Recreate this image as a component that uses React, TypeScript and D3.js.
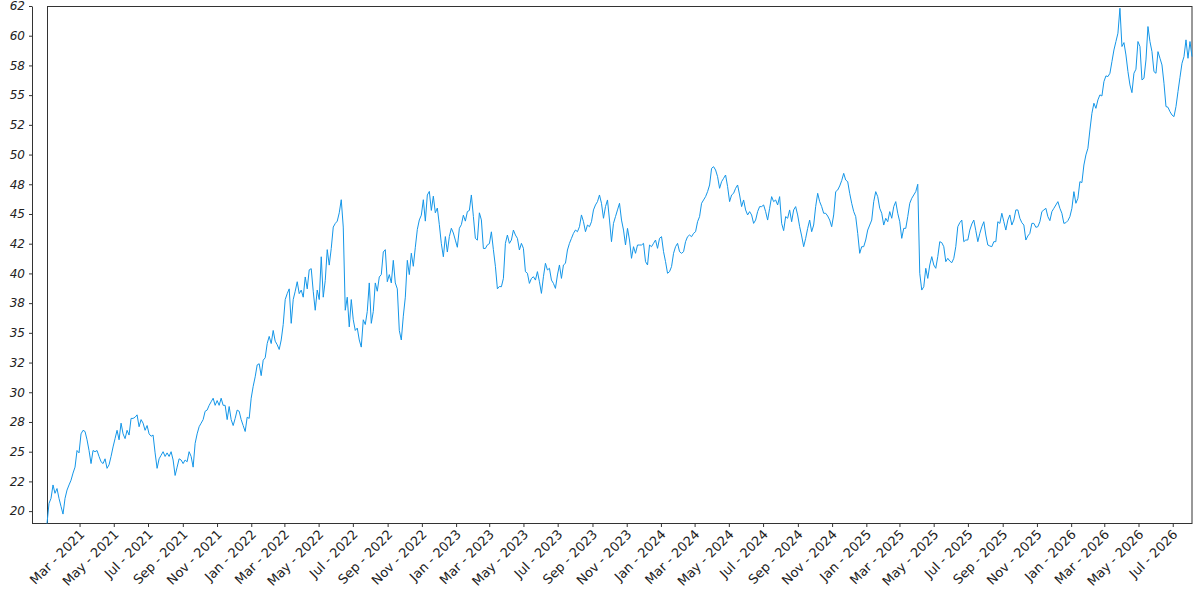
import { useEffect, useRef } from 'react';
import * as d3 from 'd3';

// sampling of the close series: one value every ~3.57 days from 2 Jan 2021
const startDate = new Date(2021, 0, 2);
const stepDays = 3.567;

const closeJan21Sep21 = [
  18.96, 20.65, 21.07, 22.2, 21.5, 21.9, 21.07, 20.4, 19.75, 21.07,
  21.77, 22.2, 22.6, 23.2, 23.7, 25.1, 24.9, 26.5, 26.8, 26.7,
  26.0, 25.1, 24.0, 25.1, 25.0, 25.1, 24.6, 24.15, 24.0, 24.4,
  23.6, 23.9, 24.6, 25.4, 26.1, 26.8, 26.0, 27.4, 26.5, 26.1,
  26.8, 26.4, 27.8, 27.8, 27.9, 28.1, 27.1, 27.7, 27.4, 26.8,
  27.2, 26.5, 26.3, 26.4, 24.9, 23.6, 24.4, 24.7, 25.0, 24.6,
  24.9, 24.6, 25.0, 24.3, 23.0, 23.7, 24.4, 24.3, 24.0, 24.3,
  24.15, 25.0, 24.6, 23.7, 25.7, 26.5, 27.1,
];

const closeOct21Jul22 = [
  27.4, 27.7, 28.4, 28.5, 28.9, 29.2, 29.5, 28.9, 29.3, 28.9,
  29.5, 28.9, 28.9, 27.7, 28.8, 27.7, 27.2, 27.8, 28.5, 28.4,
  27.7, 27.2, 26.7, 27.9, 27.8, 29.5, 30.5, 31.3, 32.3, 32.4,
  31.4, 32.7, 32.9, 34.1, 34.7, 34.1, 35.2, 34.3, 34.0, 33.6,
  34.4, 35.7, 37.8, 38.3, 38.7, 35.8, 37.8, 38.5, 39.3, 38.3,
  38.6, 38.0, 39.7, 38.7, 40.3, 40.4, 38.5, 36.9, 38.6, 37.8,
  41.4, 38.0, 39.4, 42.0, 40.7, 42.1, 43.9, 44.2, 44.4, 45.1,
  46.2, 43.9, 36.9, 38.0, 35.5, 37.8, 36.1, 35.2, 35.4, 34.4,
];

const closeJul22Mar23 = [
  33.8, 36.1, 35.7, 36.8, 39.2, 35.8, 36.8, 39.2, 38.5, 39.7,
  39.9, 41.8, 42.0, 39.3, 39.9, 39.2, 41.1, 39.2, 38.7, 35.2,
  34.4, 36.4, 38.0, 41.1, 39.9, 41.7, 40.6, 42.2, 43.7, 44.5,
  44.9, 46.2, 44.4, 46.6, 46.9, 45.3, 46.5, 45.1, 45.5, 44.1,
  42.5, 41.4, 43.1, 41.8, 43.1, 43.8, 43.4, 42.8, 42.2, 43.8,
  44.1, 44.9, 44.4, 45.2, 45.3, 46.6, 44.8, 42.95, 42.8, 45.1,
  44.5, 42.1, 42.1, 42.4, 42.5, 43.5, 42.0, 40.6, 38.7, 38.9,
];

const closeMar23Nov23 = [
  38.88, 39.58, 42.53, 43.23, 42.53, 42.81, 43.65, 43.23, 42.95, 41.97,
  42.53, 42.11, 40.15, 40.01, 39.16, 39.58, 39.72, 39.44, 40.15, 39.3,
  38.32, 39.72, 40.85, 40.29, 40.43, 39.44, 39.16, 38.74, 39.87, 40.71,
  39.58, 40.71, 40.85, 41.97, 42.53, 42.95, 43.37, 43.65, 43.51, 43.93,
  44.92, 44.35, 43.51, 44.07, 43.93, 44.35, 45.34, 45.76, 46.04, 46.6,
  45.9, 44.64, 45.62, 46.18, 44.49, 42.67, 44.21, 44.78, 45.34, 45.9,
  44.49, 43.65, 42.39, 43.79, 42.81, 41.27, 42.25, 41.69, 42.39, 42.39,
];

const closeDec23Jul24 = [
  42.39, 42.53, 40.99, 40.71, 42.39, 42.25, 42.53, 42.81, 42.11, 42.95,
  43.09, 41.83, 40.99, 40.01, 40.15, 40.57, 41.69, 42.25, 42.53, 41.83,
  41.69, 41.83, 42.67, 43.09, 43.23, 43.09, 43.37, 43.51, 44.35, 44.78,
  45.9, 46.18, 46.46, 46.88, 47.44, 48.84, 48.98, 48.7, 48.14, 47.16,
  47.72, 48.0, 48.28, 47.3, 46.04, 46.6, 46.74, 47.16, 47.44, 46.6,
  45.62, 46.18, 45.34, 44.92, 45.2, 44.92, 44.21, 44.49, 45.2, 45.62,
  45.62, 45.76, 45.2, 44.49, 45.48, 46.46, 46.04, 46.18, 45.76, 46.46,
];

const closeAug24Mar25 = [
  44.21, 43.6, 44.78, 44.64, 45.34, 44.35, 45.34, 45.62, 44.92, 43.93,
  43.15, 42.25, 42.95, 43.79, 44.49, 43.51, 44.07, 45.62, 46.74, 46.04,
  45.62, 45.06, 45.06, 44.83, 44.49, 43.93, 44.92, 46.88, 47.02, 47.36,
  47.81, 48.42, 47.86, 47.72, 46.74, 45.9, 45.2, 44.78, 43.37, 41.69,
  42.25, 42.25, 42.81, 43.65, 44.07, 44.49, 46.04, 46.88, 46.46, 45.48,
  45.06, 44.07, 44.64, 44.35, 45.2, 44.64, 45.62, 46.04, 45.06, 44.35,
  42.95, 43.79, 43.79, 44.78, 45.9, 46.32, 46.6, 46.88, 47.5,
];

const closeApr25Dec25 = [
  40.01, 38.6, 38.88, 40.43, 39.58, 40.71, 41.41, 40.71, 40.43, 41.41,
  42.67, 42.59, 42.25, 40.99, 41.27, 41.04, 40.9, 41.27, 42.25, 43.93,
  44.27, 44.49, 42.67, 42.81, 42.81, 43.65, 44.16, 44.49, 43.6, 42.67,
  43.37, 43.93, 44.35, 43.23, 42.39, 42.31, 42.25, 42.67, 42.67, 44.35,
  44.21, 45.06, 44.35, 43.65, 44.49, 44.92, 44.07, 44.49, 45.34, 45.34,
  44.64, 44.27, 44.07, 42.81, 43.15, 43.37, 44.21, 44.21, 43.88, 43.93,
  44.35, 45.2, 45.34, 45.48, 44.78, 44.44, 45.2, 45.48, 45.76, 46.04,
  45.48,
];

const closeJan26Aug26 = [
  45.06, 44.21, 44.27, 44.44, 44.78, 45.48, 46.88, 45.9, 46.32, 47.72,
  47.64, 49.12, 49.97, 50.53, 52.07, 53.47, 54.32, 53.89, 54.6, 55.02,
  54.93, 56.14, 56.62, 56.56, 56.84, 57.82, 58.8, 59.51, 60.21, 62.31,
  59.09, 59.42, 58.38, 56.98, 55.86, 55.21, 56.84, 57.18, 59.51, 59.09,
  56.28, 56.42, 57.96, 60.77, 59.51, 58.66, 56.98, 56.84, 58.66, 58.1,
  57.54, 56.0, 54.04, 53.98, 53.61, 53.33, 53.19, 54.04, 55.3, 56.5,
  57.68, 58.24, 59.65, 58.1, 59.51, 58.24,
];

const closeValues = [
  ...closeJan21Sep21,
  ...closeOct21Jul22,
  ...closeJul22Mar23,
  ...closeMar23Nov23,
  ...closeDec23Jul24,
  ...closeAug24Mar25,
  ...closeApr25Dec25,
  ...closeJan26Aug26,
];

const yDomain = [19, 62.5];
const yTicks = [20, 22.5, 25, 27.5, 30, 32.5, 35, 37.5, 40, 42.5, 45, 47.5, 50, 52.5, 55, 57.5, 60, 62.5];
const yTickLabels = ['20', '22', '25', '28', '30', '32', '35', '38', '40', '42', '45', '48', '50', '52', '55', '58', '60', '62'];

export default function App() {
  const svgRef = useRef<SVGSVGElement>(null);

  useEffect(() => {
    if (!svgRef.current) return;

    const width = 1200;
    const height = 600;
    const margin = { top: 6, right: 8, bottom: 77, left: 47 };
    const axisOffset = 15;
    const bottom = height - margin.bottom;
    const right = width - margin.right;

    d3.select(svgRef.current).selectAll('*').remove();
    const svg = d3.select(svgRef.current)
      .attr('width', width)
      .attr('height', height);

    const data = closeValues.map((v, i) => ({
      date: new Date(startDate.getTime() + i * stepDays * 864e5),
      value: v,
    }));

    const x = d3.scaleTime()
      .domain(d3.extent(data, d => d.date) as [Date, Date])
      .range([margin.left, right]);

    const y = d3.scaleLinear()
      .domain(yDomain)
      .range([bottom, margin.top]);

    // x axis
    const xAxis = svg.append('g')
      .attr('transform', `translate(0,${bottom})`)
      .call(d3.axisBottom(x)
        .ticks(d3.timeMonth.every(2))
        .tickFormat(d => d3.timeFormat('%b - %Y')(d as Date))
        .tickSize(4));
    xAxis.select('.domain').remove();
    xAxis.selectAll('line').attr('stroke', '#333');
    xAxis.selectAll('text')
      .attr('x', 0)
      .attr('y', 0)
      .attr('dy', '0.35em')
      .attr('transform', 'translate(2,9) rotate(-45)')
      .style('text-anchor', 'end')
      .style('font-family', '"DejaVu Sans"')
      .style('font-size', '13px')
      .style('fill', '#222');

    // y axis, pulled out to the left of the frame
    const yAxis = svg.append('g')
      .attr('transform', `translate(${margin.left - axisOffset},0)`)
      .call(d3.axisLeft(y)
        .tickValues(yTicks)
        .tickFormat((_, i) => yTickLabels[i])
        .tickSize(3)
        .tickSizeOuter(0)
        .tickPadding(4));
    yAxis.select('.domain').attr('stroke', '#333');
    yAxis.selectAll('line').attr('stroke', '#333');
    yAxis.selectAll('text')
      .style('font-family', '"DejaVu Sans"')
      .style('font-style', 'italic')
      .style('font-size', '12px')
      .style('fill', '#222');

    svg.append('line')
      .attr('x1', margin.left - axisOffset)
      .attr('x2', right)
      .attr('y1', bottom + 0.5)
      .attr('y2', bottom + 0.5)
      .attr('stroke', '#333');

    svg.append('rect')
      .attr('x', margin.left + 0.5)
      .attr('y', margin.top + 0.5)
      .attr('width', right - margin.left - 0.5)
      .attr('height', bottom - margin.top)
      .attr('fill', 'none')
      .attr('stroke', '#333');

    const line = d3.line<{ date: Date; value: number }>()
      .x(d => x(d.date))
      .y(d => y(d.value));

    svg.append('path')
      .datum(data)
      .attr('d', line)
      .attr('fill', 'none')
      .attr('stroke', '#1496e8')
      .attr('stroke-width', 1);
  }, []);

  return (
    <div>
      <svg ref={svgRef} style={{ position: 'absolute', left: 0, top: 0 }}></svg>
    </div>
  );
}
